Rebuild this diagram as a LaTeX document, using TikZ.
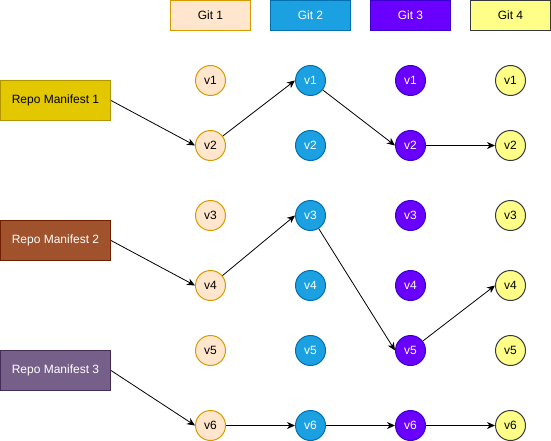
\documentclass[tikz,border=0pt]{standalone}
\usepackage{fontspec}
\setmainfont{Liberation Sans}
\usetikzlibrary{arrows.meta}

\definecolor{git1fill}{HTML}{FFE6CC}
\definecolor{git1line}{HTML}{D79B00}
\definecolor{git1text}{HTML}{000000}
\definecolor{git2fill}{HTML}{1BA1E2}
\definecolor{git2line}{HTML}{006EAF}
\definecolor{git2text}{HTML}{FFFFFF}
\definecolor{git3fill}{HTML}{6A00FF}
\definecolor{git3line}{HTML}{3700CC}
\definecolor{git3text}{HTML}{FFFFFF}
\definecolor{git4fill}{HTML}{FFFF88}
\definecolor{git4line}{HTML}{36393D}
\definecolor{git4text}{HTML}{000000}
\definecolor{man1fill}{HTML}{E3C800}
\definecolor{man1line}{HTML}{B09500}
\definecolor{man1text}{HTML}{000000}
\definecolor{man2fill}{HTML}{A0522D}
\definecolor{man2line}{HTML}{6D1F00}
\definecolor{man2text}{HTML}{FFFFFF}
\definecolor{man3fill}{HTML}{76608A}
\definecolor{man3line}{HTML}{432D57}
\definecolor{man3text}{HTML}{FFFFFF}

\tikzset{
  label12/.style={font=\fontsize{12}{14}\selectfont, line width=1pt, inner sep=0pt},
  gitcol/.style={fill=git#1fill, draw=git#1line, text=git#1text},
  mancol/.style={fill=man#1fill, draw=man#1line, text=man#1text},
  gitbox/.style={label12, rectangle, minimum width=80pt, minimum height=30pt},
  manbox/.style={label12, rectangle, minimum width=110pt, minimum height=40pt},
  ver/.style={label12, circle, minimum size=30pt},
  link/.style={-{Stealth[length=8pt,width=7pt,inset=2.5pt]}, line width=0.8pt}
}

\begin{document}
\begin{tikzpicture}[x=1pt,y=-1pt]
\useasboundingbox (0,0) rectangle (551,441);

% repositories and their versions
\foreach \c/\x in {1/210.5,2/310.5,3/410.5,4/510.5}{
  \node[gitbox, gitcol=\c] (git\c) at (\x,15.5) {Git \c};
  \foreach \r/\y in {1/80.5,2/145.5,3/215.5,4/285.5,5/350.5,6/425.5}
    \node[ver, gitcol=\c] (g\c v\r) at (\x,\y) {v\r};
}

% manifests
\node[manbox, mancol=1] (rm1) at (55.5,100.5) {Repo Manifest 1};
\node[manbox, mancol=2] (rm2) at (55.5,240.5) {Repo Manifest 2};
\node[manbox, mancol=3] (rm3) at (55.5,370.5) {Repo Manifest 3};

% manifest 1
\draw[link] (rm1.east) -- (g1v2.west);
\draw[link] (g1v2) -- (g2v1.west);
\draw[link] (g2v1) -- (g3v2.west);
\draw[link] (g3v2) -- (g4v2.west);

% manifest 2
\draw[link] (rm2.east) -- (g1v4.west);
\draw[link] (g1v4) -- (g2v3.west);
\draw[link] (g2v3) -- (g3v5.west);
\draw[link] (g3v5) -- (g4v4.west);

% manifest 3
\draw[link] (rm3.east) -- (g1v6.west);
\draw[link] (g1v6) -- (g2v6.west);
\draw[link] (g2v6) -- (g3v6.west);
\draw[link] (g3v6) -- (g4v6.west);

\end{tikzpicture}
\end{document}
